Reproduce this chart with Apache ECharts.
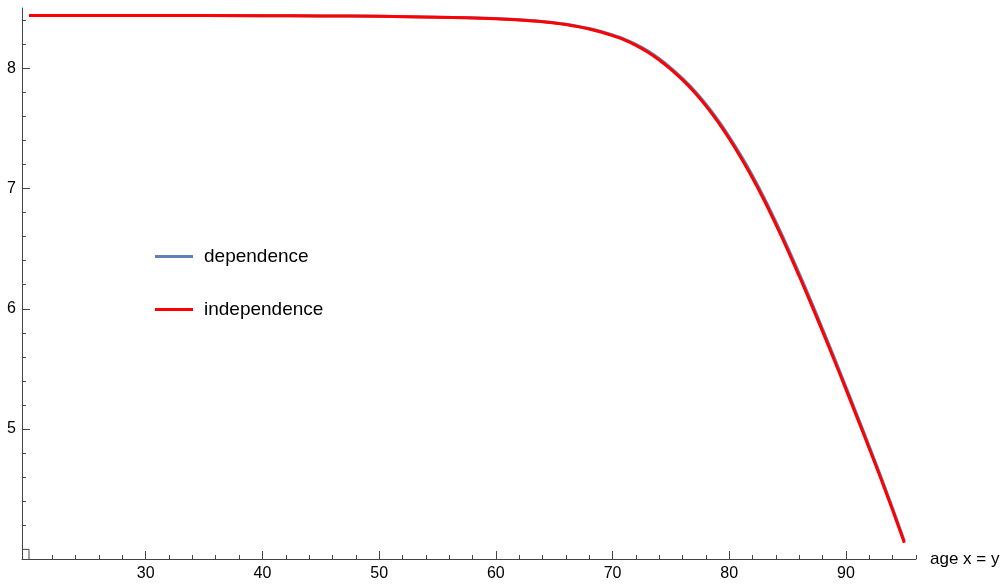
<!DOCTYPE html>
<html>
<head>
<meta charset="utf-8">
<script src="https://cdn.jsdelivr.net/npm/echarts@6/dist/echarts.min.js"></script>
<style>
  html, body { margin: 0; padding: 0; background: #fff; }
  #chart { width: 1005px; height: 584px; }
</style>
</head>
<body>
<div id="chart"></div>
<script>
// ages x = y
var ages = [20, 30, 40, 45, 50, 55, 60, 62, 64, 65, 66, 67, 68, 69, 70, 71, 72, 73, 74, 75,
	76, 77, 78, 79, 80, 81, 82, 83, 84, 85, 86, 87, 88, 89, 90, 91, 92, 93, 94, 95];
var dependence = [8.437, 8.437, 8.436, 8.434, 8.431, 8.424, 8.412, 8.402, 8.388, 8.378, 8.365, 8.349, 8.329, 8.305, 8.276, 8.242, 8.198, 8.144, 8.078, 8.001,
	7.914, 7.815, 7.701, 7.573, 7.430, 7.273, 7.104, 6.920, 6.720, 6.511, 6.291, 6.064, 5.830, 5.592, 5.349, 5.103, 4.854, 4.601, 4.340, 4.069];
var independence = [8.437, 8.437, 8.436, 8.434, 8.431, 8.424, 8.411, 8.400, 8.386, 8.375, 8.362, 8.345, 8.325, 8.300, 8.270, 8.235, 8.190, 8.135, 8.068, 7.990,
	7.902, 7.801, 7.686, 7.557, 7.413, 7.255, 7.085, 6.900, 6.700, 6.490, 6.270, 6.043, 5.810, 5.572, 5.330, 5.085, 4.837, 4.585, 4.325, 4.055];
var xMajor = [30, 40, 50, 60, 70, 80, 90];
var xMinor = [22, 24, 26, 28, 32, 34, 36, 38, 42, 44, 46, 48, 52, 54, 56, 58, 62, 64, 66, 68,
	72, 74, 76, 78, 82, 84, 86, 88, 92, 94, 96];
var yMajor = [5, 6, 7, 8];
var yMinor = [4.2, 4.4, 4.6, 4.8, 5.2, 5.4, 5.6, 5.8, 6.2, 6.4, 6.6, 6.8, 7.2, 7.4, 7.6, 7.8, 8.2, 8.4];
// little origin box where the axes would meet
var originBox = [[19.4, 4], [20, 4], [20, 3.92]];

function pairs(xs, ys) {
	var out = [];
	for (var i = 0; i < xs.length; i++) {
		out.push([xs[i], ys[i]]);
	}
	return out;
}

var font = 'Liberation Sans, Arial, sans-serif';
var axisColor = '#444';

var chart = echarts.init(document.getElementById('chart'));
var option = {
	animation : false,
	grid : {
		left : 22,
		right : 89,
		top : 8,
		bottom : 25
	},
	legend : {
		orient : 'vertical',
		left : 155,
		top : 247,
		padding : 0,
		itemWidth : 38,
		itemHeight : 3,
		itemGap : 34,
		icon : 'rect',
		textStyle : {
			fontFamily : font,
			fontSize : 19,
			color : '#000',
			padding : [ 0, 0, 0, 6 ]
		},
		data : [ 'dependence', 'independence' ]
	},
	xAxis : [ {
		type : 'value',
		min : 19.4,
		max : 96,
		name : 'age x = y',
		nameLocation : 'end',
		nameGap : 14,
		nameTextStyle : {
			fontFamily : font,
			fontSize : 17,
			color : '#000'
		},
		splitLine : { show : false },
		axisLine : { onZero : false, lineStyle : { color : axisColor, width : 1 } },
		axisTick : {
			inside : true,
			length : 8,
			customValues : xMajor,
			lineStyle : { color : axisColor }
		},
		axisLabel : {
			customValues : xMajor,
			margin : 7,
			fontFamily : font,
			fontSize : 16,
			color : '#000'
		}
	}, {
		type : 'value',
		min : 19.4,
		max : 96,
		position : 'bottom',
		splitLine : { show : false },
		axisLine : { show : false },
		axisTick : {
			inside : true,
			length : 4,
			customValues : xMinor,
			lineStyle : { color : axisColor }
		},
		axisLabel : { show : false }
	} ],
	yAxis : [ {
		type : 'value',
		min : 3.92,
		max : 8.5,
		splitLine : { show : false },
		axisLine : { onZero : false, lineStyle : { color : axisColor, width : 1 } },
		axisTick : {
			inside : true,
			length : 8,
			customValues : yMajor,
			lineStyle : { color : axisColor }
		},
		axisLabel : {
			customValues : yMajor,
			margin : 6,
			fontFamily : font,
			fontSize : 16,
			color : '#000'
		}
	}, {
		type : 'value',
		min : 3.92,
		max : 8.5,
		position : 'left',
		splitLine : { show : false },
		axisLine : { show : false },
		axisTick : {
			inside : true,
			length : 4,
			customValues : yMinor,
			lineStyle : { color : axisColor }
		},
		axisLabel : { show : false }
	} ],
	series : [ {
		name : 'origin',
		type : 'line',
		data : originBox,
		symbol : 'none',
		silent : true,
		lineStyle : { color : axisColor, width : 1 },
		z : 1
	}, {
		name : 'dependence',
		type : 'line',
		data : pairs(ages, dependence),
		symbol : 'none',
		smooth : 0.25,
		color : '#5E81B5',
		lineStyle : { color : '#5E81B5', width : 3 },
		z : 2
	}, {
		name : 'independence',
		type : 'line',
		data : pairs(ages, independence),
		symbol : 'none',
		smooth : 0.25,
		color : '#FF0000',
		lineStyle : { color : '#FF0000', width : 3 },
		z : 3
	} ]
};
chart.setOption(option);
</script>
</body>
</html>
